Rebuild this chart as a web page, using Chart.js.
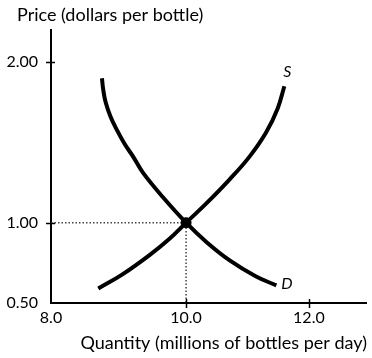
<!DOCTYPE html>
<html>
<head>
<meta charset="utf-8">
<script src="https://cdn.jsdelivr.net/npm/chart.js@4.4.1/dist/chart.umd.min.js"></script>
<style>
  html, body { margin: 0; padding: 0; background: #fff; }
  #wrap { width: 372px; height: 358px; }
</style>
</head>
<body>
<div id="wrap"><canvas id="c" width="372" height="358"></canvas></div>
<script>
// ---- data ----
const supplyQuantity = [8.57, 8.97, 9.41, 9.73, 10.0, 10.33, 10.71, 11.03, 11.30, 11.49, 11.60];
const supplyPrice    = [0.59, 0.68, 0.80, 0.90, 1.00, 1.12, 1.27, 1.41, 1.56, 1.71, 1.85];
const demandQuantity = [8.63, 8.65, 8.69, 8.77, 8.87, 9.00, 9.14, 9.30, 9.62, 10.0, 10.33, 10.71, 11.14, 11.47];
const demandPrice    = [1.90, 1.83, 1.75, 1.66, 1.58, 1.49, 1.41, 1.31, 1.16, 1.00, 0.88, 0.765, 0.665, 0.61];
const equilibrium    = { quantity: 10.0, price: 1.00 };
const xTickValues = [8, 10, 12];
const xTickLabels = ['8.0', '10.0', '12.0'];
const yTickValues = [0.5, 1.0, 2.0];
const yTickLabels = ['0.50', '1.00', '2.00'];
const curveLabels = ['S', 'D'];
const yTitle = 'Price (dollars per bottle)';
const xTitle = 'Quantity (millions of bottles per day)';

const X_MIN = 7.8, X_MAX = 12.93, Y_MIN = 0.5, Y_MAX = 2.2;
const FONT = 'Lato, "Open Sans", sans-serif';

const toPts = (xs, ys) => xs.map((x, i) => ({ x, y: ys[i] }));

const extras = {
  id: 'extras',
  afterDatasetsDraw(chart) {
    const { ctx, scales: { x, y }, chartArea } = chart;
    ctx.save();
    // tick marks crossing the axes
    ctx.strokeStyle = '#000';
    ctx.lineWidth = 1.5;
    yTickValues.forEach(v => {
      if (v === Y_MIN) return;
      const py = Math.round(y.getPixelForValue(v)) + 0.5;
      ctx.beginPath(); ctx.moveTo(chartArea.left - 5, py); ctx.lineTo(chartArea.left + 4, py); ctx.stroke();
    });
    xTickValues.forEach((v, i) => {
      if (i === 0) return;
      const px = Math.round(x.getPixelForValue(v)) + 0.5;
      ctx.beginPath(); ctx.moveTo(px, chartArea.bottom - 4); ctx.lineTo(px, chartArea.bottom + 5); ctx.stroke();
    });
    // curve labels
    ctx.fillStyle = '#000';
    ctx.font = 'italic 16px ' + FONT;
    ctx.textBaseline = 'middle';
    ctx.textAlign = 'left';
    const sLast = supplyQuantity.length - 1;
    ctx.fillText(curveLabels[0], x.getPixelForValue(supplyQuantity[sLast]) - 1, y.getPixelForValue(supplyPrice[sLast]) - 14);
    const dLast = demandQuantity.length - 1;
    ctx.fillText(curveLabels[1], x.getPixelForValue(demandQuantity[dLast]) + 5, y.getPixelForValue(demandPrice[dLast]) - 1);
    // axis titles
    ctx.font = '18px ' + FONT;
    ctx.textAlign = 'left';
    ctx.fillText(yTitle, 17, 15);
    ctx.textAlign = 'right';
    ctx.fillText(xTitle, 367, 343);
    ctx.restore();
  }
};

new Chart(document.getElementById('c'), {
  type: 'scatter',
  data: {
    datasets: [
      {
        data: [{ x: X_MIN, y: equilibrium.price }, { x: equilibrium.quantity, y: equilibrium.price }, { x: equilibrium.quantity, y: Y_MIN }],
        showLine: true, borderColor: '#444', borderWidth: 1.5, borderDash: [1.5, 2],
        pointRadius: 0, fill: false, tension: 0, order: 3
      },
      {
        data: toPts(supplyQuantity, supplyPrice),
        showLine: true, borderColor: '#000', borderWidth: 4, pointRadius: 0,
        tension: 0.4, borderCapStyle: 'butt', order: 2
      },
      {
        data: toPts(demandQuantity, demandPrice),
        showLine: true, borderColor: '#000', borderWidth: 4, pointRadius: 0,
        tension: 0.4, borderCapStyle: 'butt', order: 2
      },
      {
        data: [{ x: equilibrium.quantity, y: equilibrium.price }],
        pointRadius: 5, pointBackgroundColor: '#000', pointBorderColor: '#000', order: 1
      }
    ]
  },
  options: {
    responsive: false,
    animation: false,
    events: [],
    layout: { padding: { top: 30, right: 5, left: 0, bottom: 0 } },
    plugins: { legend: { display: false }, tooltip: { enabled: false }, title: { display: false } },
    scales: {
      x: {
        type: 'linear', min: X_MIN, max: X_MAX,
        afterBuildTicks: s => { s.ticks = xTickValues.map((v, i) => ({ value: i === 0 ? s.min : v })); },
        afterFit: s => { s.height = 55; },
        grid: { display: false, drawTicks: false },
        border: { display: true, color: '#000', width: 2 },
        ticks: { padding: 5, color: '#000', font: { family: FONT, size: 16 }, maxRotation: 0, autoSkip: false,
                 callback: (v, i) => xTickLabels[i] }
      },
      y: {
        type: 'linear', min: Y_MIN, max: Y_MAX,
        afterBuildTicks: s => { s.ticks = yTickValues.map(v => ({ value: v })); },
        afterFit: s => { s.width = 51; },
        grid: { display: false, drawTicks: false },
        border: { display: true, color: '#000', width: 2 },
        ticks: { padding: 13, color: '#000', font: { family: FONT, size: 16 }, autoSkip: false,
                 callback: (v, i) => yTickLabels[i] }
      }
    }
  },
  plugins: [extras]
});
</script>
</body>
</html>
